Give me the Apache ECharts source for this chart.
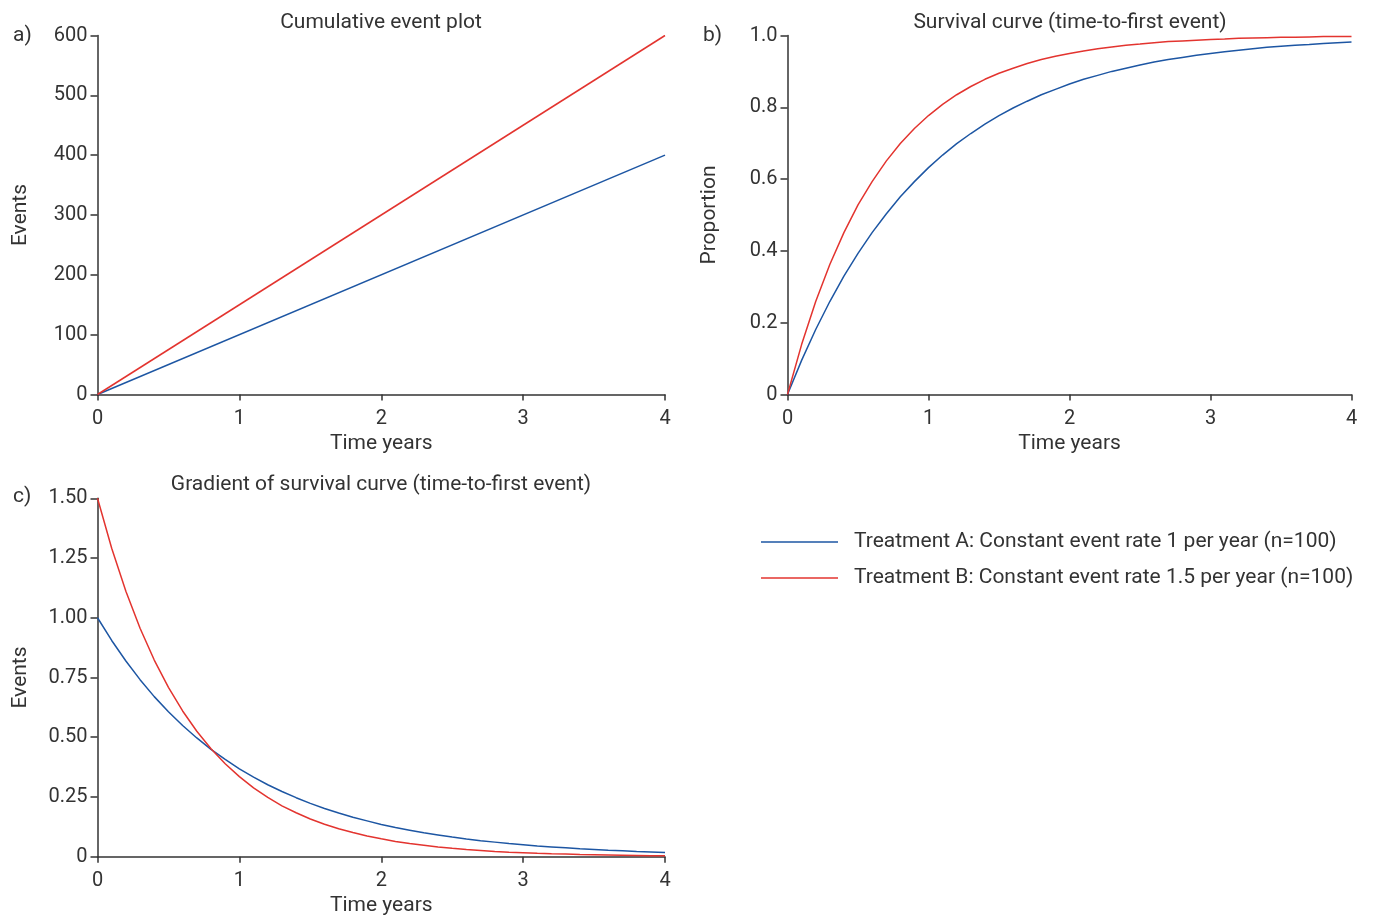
<!DOCTYPE html>
<html>
<head>
<meta charset="utf-8">
<script src="https://cdn.jsdelivr.net/npm/echarts@6/dist/echarts.min.js"></script>
<style>html,body{margin:0;padding:0;background:#fff}#c{width:1373px;height:916px}</style>
</head>
<body>
<div id="c"></div>
<script>
const seriesNames = ['Treatment A: Constant event rate 1 per year (n=100)', 'Treatment B: Constant event rate 1.5 per year (n=100)'];
const xTicks = [0, 1, 2, 3, 4];
const cumTime = [0, 4];
const cumA = [0, 400];
const cumB = [0, 600];
const t = [0,0.1,0.2,0.3,0.4,0.5,0.6,0.7,0.8,0.9,1.0,1.1,1.2,1.3,1.4,1.5,1.6,1.7,1.8,1.9,2.0,2.1,2.2,2.3,2.4,2.5,2.6,2.7,2.8,2.9,3.0,3.1,3.2,3.3,3.4,3.5,3.6,3.7,3.8,3.9,4.0];
const survA = [0,.095,.181,.259,.330,.393,.451,.503,.551,.593,.632,.667,.699,.727,.753,.777,.798,.817,.835,.850,.865,.878,.889,.900,.909,.918,.926,.933,.939,.945,.950,.955,.959,.963,.967,.970,.973,.975,.978,.980,.982];
const survB = [0,.139,.259,.362,.451,.528,.593,.650,.699,.741,.777,.808,.835,.858,.878,.895,.909,.922,.933,.942,.950,.957,.963,.968,.973,.976,.980,.983,.985,.987,.989,.990,.992,.993,.994,.995,.995,.996,.997,.997,.997];
const gradA = [1,.905,.819,.741,.670,.607,.549,.497,.449,.407,.368,.333,.301,.273,.247,.223,.202,.183,.165,.150,.135,.122,.111,.100,.091,.082,.074,.067,.061,.055,.050,.045,.041,.037,.033,.030,.027,.025,.022,.020,.018];
const gradB = [1.5,1.291,1.111,.956,.823,.709,.610,.525,.452,.389,.335,.288,.248,.213,.184,.158,.136,.117,.101,.087,.075,.064,.055,.048,.041,.035,.030,.026,.022,.019,.017,.014,.012,.011,.009,.008,.007,.006,.005,.004,.004];
const panelTitles = ['Cumulative event plot', 'Survival curve (time-to-first event)', 'Gradient of survival curve (time-to-first event)'];
const panelLetters = ['a)', 'b)', 'c)'];

const FONT = 'Roboto';
const TXT = '#333';
const BLUE = '#1d56a3';
const RED = '#e3342f';
const FS = 21;
const NFS = 20;

function pairs(xs, ys){ return xs.map((x,i)=>[x, ys[i]]); }

function xAxis(gi){
  return {
    type:'value', gridIndex:gi, min:0, max:4, interval:1,
    name:'Time years', nameLocation:'middle', nameGap:39,
    nameTextStyle:{fontFamily:FONT, fontSize:FS, color:TXT, verticalAlign:'top'},
    axisLine:{show:true, onZero:false, lineStyle:{color:'#333', width:1.5}},
    axisTick:{show:true, length:6, lineStyle:{color:'#333', width:1.5}},
    axisLabel:{fontFamily:FONT, fontSize:NFS, color:TXT, margin:14},
    splitLine:{show:false}
  };
}
function yAxis(gi, max, interval, name, fmt, gap){
  return {
    type:'value', gridIndex:gi, min:0, max:max, interval:interval,
    name:name, nameLocation:'middle', nameGap:gap, nameRotate:90,
    nameTextStyle:{fontFamily:FONT, fontSize:FS, color:TXT},
    axisLine:{show:true, onZero:false, lineStyle:{color:'#333', width:1.5}},
    axisTick:{show:true, length:7, lineStyle:{color:'#333', width:1.5}},
    axisLabel:{fontFamily:FONT, fontSize:NFS, color:TXT, margin:10, formatter:fmt},
    splitLine:{show:false}
  };
}
function line(name, gi, data, color){
  return {type:'line', name:name, xAxisIndex:gi, yAxisIndex:gi, data:data, showSymbol:false, symbol:'none',
    lineStyle:{color:color, width:1.5}, itemStyle:{color:color}, silent:true, animation:false};
}
function txt(x, y, text, align){
  return {type:'text', x:x, y:y, style:{text:text, fontFamily:FONT, fontSize:FS, fill:TXT, textAlign:align||'center', textVerticalAlign:'middle'}};
}

const chart = echarts.init(document.getElementById('c'));
chart.setOption({
  animation:false,
  backgroundColor:'#fff',
  grid:[
    {left:97.5, top:35.5, right:708, bottom:521.5, containLabel:false, outerBoundsMode:'none'},
    {left:787.5, top:35.5, right:21.5, bottom:521.5, containLabel:false, outerBoundsMode:'none'},
    {left:97.5, top:498.3, right:708, bottom:59.3, containLabel:false, outerBoundsMode:'none'}
  ],
  xAxis:[xAxis(0), xAxis(1), xAxis(2)],
  yAxis:[
    yAxis(0, 600, 100, 'Events', v=>String(v), 66),
    yAxis(1, 1.0, 0.2, 'Proportion', v=>v===0?'0':v.toFixed(1), 67),
    yAxis(2, 1.5, 0.25, 'Events', v=>v===0?'0':v.toFixed(2), 66)
  ],
  legend:{
    data:seriesNames, orient:'vertical', left:761, top:531, icon:'rect', padding:0,
    itemWidth:77, itemHeight:1.5, itemGap:14,
    textStyle:{fontFamily:FONT, fontSize:FS, color:TXT, padding:[0,0,0,11], lineHeight:22}
  },
  graphic:[
    txt(381, 23, panelTitles[0]),
    txt(1070, 23, panelTitles[1]),
    txt(381, 485, panelTitles[2]),
    txt(13, 36, panelLetters[0], 'left'),
    txt(703, 36, panelLetters[1], 'left'),
    txt(13, 497, panelLetters[2], 'left')
  ],
  series:[
    line(seriesNames[0], 0, pairs(cumTime, cumA), BLUE),
    line(seriesNames[1], 0, pairs(cumTime, cumB), RED),
    line(seriesNames[0], 1, pairs(t, survA), BLUE),
    line(seriesNames[1], 1, pairs(t, survB), RED),
    line(seriesNames[0], 2, pairs(t, gradA), BLUE),
    line(seriesNames[1], 2, pairs(t, gradB), RED)
  ]
});
</script>
</body>
</html>
